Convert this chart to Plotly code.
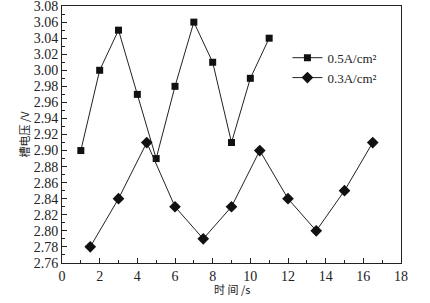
import plotly.graph_objects as go

x_a = [1, 2, 3, 4, 5, 6, 7, 8, 9, 10, 11]
y_a = [2.90, 3.00, 3.05, 2.97, 2.89, 2.98, 3.06, 3.01, 2.91, 2.99, 3.04]
x_b = [1.5, 3, 4.5, 6, 7.5, 9, 10.5, 12, 13.5, 15, 16.5]
y_b = [2.78, 2.84, 2.91, 2.83, 2.79, 2.83, 2.90, 2.84, 2.80, 2.85, 2.91]
name_a = "0.5A/cm²"
name_b = "0.3A/cm²"

fig = go.Figure()
fig.add_trace(go.Scatter(x=x_a, y=y_a, name=name_a, mode="lines+markers",
                         line=dict(color="#222", width=1),
                         marker=dict(symbol="square", size=7, color="#111")))
fig.add_trace(go.Scatter(x=x_b, y=y_b, name=name_b, mode="lines+markers",
                         line=dict(color="#222", width=1),
                         marker=dict(symbol="diamond", size=9, color="#111")))

font = "'Liberation Serif', 'Times New Roman', serif"
cjk = "'Noto Sans CJK SC', sans-serif"
fig.update_layout(
    width=430, height=303,
    margin=dict(l=62, r=29, t=6, b=40),
    paper_bgcolor="white", plot_bgcolor="white",
    font=dict(family=font, size=14, color="#222"),
    legend=dict(x=0.665, y=0.857, xanchor="left", yanchor="top",
                bgcolor="rgba(0,0,0,0)", font=dict(size=13, family=font),
                itemwidth=30, tracegroupgap=0),
    showlegend=True,
    annotations=[
        dict(text="时 间 /s", xref="paper", yref="paper", x=0.5, y=-0.1,
             xanchor="center", yanchor="middle", showarrow=False,
             font=dict(size=11, family=cjk, color="#222")),
        dict(text="槽电压 /V", xref="paper", yref="paper", x=-0.115, y=0.5,
             xanchor="center", yanchor="middle", textangle=-90, showarrow=False,
             font=dict(size=11, family=cjk, color="#222")),
    ],
)
fig.update_xaxes(range=[0, 18], dtick=2, ticks="inside", ticklen=5, automargin=False,
                 ticklabeloverflow="allow",
                 minor=dict(dtick=1, ticks="inside", ticklen=3, tickcolor="#222"),
                 showline=True, linecolor="#222", linewidth=1, mirror=True,
                 showgrid=False, zeroline=False, tickcolor="#222")
fig.update_yaxes(range=[2.7599, 3.0801], tick0=2.76, dtick=0.02, tickformat=".2f",
                 ticks="inside", ticklen=5, automargin=False, ticklabeloverflow="allow",
                 minor=dict(dtick=0.01, ticks="inside", ticklen=3, tickcolor="#222"),
                 showline=True, linecolor="#222", linewidth=1, mirror=True,
                 showgrid=False, zeroline=False, tickcolor="#222")

fig.write_html("out.html", config={"displayModeBar": False},
               post_script="document.body.style.margin='0';document.body.style.overflow='hidden';")
